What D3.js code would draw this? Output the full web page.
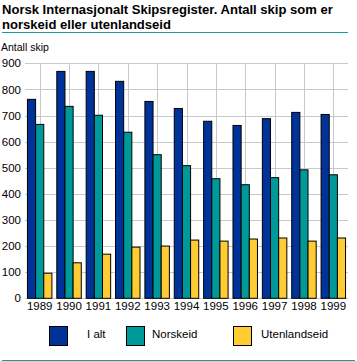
<!DOCTYPE html>
<html><head><meta charset="utf-8">
<script src="https://cdn.jsdelivr.net/npm/d3@7/dist/d3.min.js"></script>
<style>body{margin:0;background:#fff}svg{display:block}</style>
</head><body>
<script>
const years = ["1989","1990","1991","1992","1993","1994","1995","1996","1997","1998","1999"];
const seriesNames = ["I alt","Norskeid","Utenlandseid"];
const iAlt = [762,869,869,831,754,727,678,662,688,712,704];
const norskeid = [666,735,701,636,550,508,458,435,462,492,473];
const utenlandseid = [96,136,169,196,200,223,219,227,231,219,231];
const yTicks = [0,100,200,300,400,500,600,700,800,900];
const colors = ["#003399","#009999","#ffcc33"];

(function(){
const W=357,H=361;
const svg=d3.select("body").append("svg").attr("width",W).attr("height",H);
const font="'Liberation Sans', Arial, sans-serif";

const title=svg.append("text").attr("font-family",font).attr("font-weight","bold").attr("font-size",13).attr("fill","#000");
const t1=title.append("tspan").attr("x",2).attr("y",14).text("Norsk Internasjonalt Skipsregister. Antall skip som er");
title.append("tspan").attr("x",2).attr("y",29).text("norskeid eller utenlandseid");
// fit title line 1 to the reference width (~331px)
const len=t1.node().getComputedTextLength();
title.attr("font-size",Math.min(14,13*331/len));
svg.append("line").attr("x1",2).attr("x2",348).attr("y1",32.5).attr("y2",32.5).attr("stroke","#1a9a9a").attr("stroke-width",1);

svg.append("text").attr("x",1).attr("y",51).attr("font-family",font).attr("font-size",10.5).text("Antall skip");

const pl=25,pr=348,pt=63.3,pb=298.3;
const x=d3.scaleBand().domain(years).range([pl,pr]).padding(0);
const x1=d3.scaleBand().domain(seriesNames).range([0,x.bandwidth()]).paddingInner(0).paddingOuter(0.3);
const y=d3.scaleLinear().domain([0,900]).range([pb,pt]);

const g=svg.append("g");
g.selectAll("line.h").data(yTicks).join("line")
 .attr("x1",pl).attr("x2",pr)
 .attr("y1",d=>Math.round(y(d))+0.5).attr("y2",d=>Math.round(y(d))+0.5)
 .attr("stroke","#c8c8c8").attr("stroke-width",1);
g.selectAll("line.v").data(years).join("line")
 .attr("x1",d=>Math.round(x(d)+x.bandwidth()/2)+0.5).attr("x2",d=>Math.round(x(d)+x.bandwidth()/2)+0.5)
 .attr("y1",pt).attr("y2",pb)
 .attr("stroke","#c8c8c8").attr("stroke-width",1);

const data=years.map((yr,i)=>({yr,vals:[iAlt[i],norskeid[i],utenlandseid[i]]}));
const grp=svg.selectAll("g.grp").data(data).join("g").attr("transform",d=>`translate(${x(d.yr)},0)`);
grp.selectAll("rect").data(d=>d.vals.map((v,k)=>({k,v}))).join("rect")
 .attr("x",d=>x1(seriesNames[d.k])).attr("width",x1.bandwidth())
 .attr("y",d=>y(d.v)).attr("height",d=>y(0)-y(d.v))
 .attr("fill",d=>colors[d.k]).attr("stroke","#000").attr("stroke-width",1);

const yAxis=d3.axisLeft(y).tickValues(yTicks).tickSize(0).tickPadding(4);
const ya=svg.append("g").attr("transform",`translate(${pl},0)`).call(yAxis);
ya.select(".domain").remove();
ya.selectAll("text").attr("font-family",font).attr("font-size",11.5).attr("fill","#000");
const xAxis=d3.axisBottom(x).tickSize(0).tickPadding(4);
const xa=svg.append("g").attr("transform",`translate(0,${pb})`).call(xAxis);
xa.select(".domain").remove();
xa.selectAll("text").attr("font-family",font).attr("font-size",11.5).attr("fill","#000");

const legX=[49,126,233];
const legTX=[87,152,261];
const leg=svg.selectAll("g.leg").data(seriesNames).join("g");
leg.append("rect").attr("x",(d,i)=>legX[i]+0.5).attr("y",326.5).attr("width",18).attr("height",19)
 .attr("fill",(d,i)=>colors[i]).attr("stroke","#000").attr("stroke-width",1);
leg.append("text").attr("x",(d,i)=>legTX[i]).attr("y",338).attr("font-family",font).attr("font-size",11.5).text(d=>d);

svg.append("line").attr("x1",2).attr("x2",355).attr("y1",360.5).attr("y2",360.5).attr("stroke","#1a9a9a").attr("stroke-width",1);
})();
</script>
</body></html>
